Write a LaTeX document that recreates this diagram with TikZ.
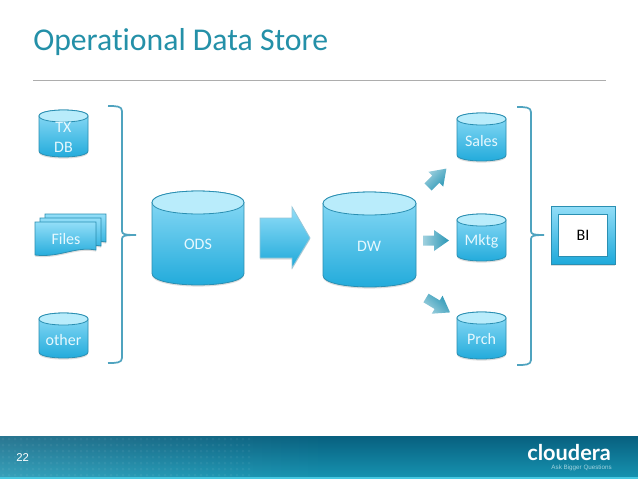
\documentclass[tikz,border=0pt]{standalone}
\usepackage{fontspec}
\setmainfont[Ligatures=NoCommon]{Carlito}
\newfontfamily\footfont{Liberation Sans}
\newfontfamily\logofont{Lato}
\usetikzlibrary{shadows,fadings}
\definecolor{titleC}{HTML}{2490A8}
\definecolor{edgeC}{HTML}{2A8FB2}
\definecolor{bodyTop}{HTML}{93DEF8}
\definecolor{bodyBot}{HTML}{1EA9DA}
\definecolor{capC}{HTML}{B9ECFB}
\definecolor{brC}{HTML}{4FA3BF}
\definecolor{arrC}{HTML}{2A97B6}
\definecolor{footTop}{HTML}{08607F}
\definecolor{footBot}{HTML}{1692B0}
\definecolor{footLine}{HTML}{46C8E1}
\definecolor{labC}{HTML}{E6F8FE}
\tikzset{
  x=0.75pt,y=-0.75pt,
  lab/.style={text=labC,font=\fontsize{12}{14.5}\selectfont,align=center,inner sep=0pt},
  blue fill/.style={top color=bodyTop,bottom color=bodyBot,draw=edgeC,line width=0.6pt},
  softshadow/.style={drop shadow={shadow xshift=0pt,shadow yshift=-1.2pt,opacity=0.22,fill=black!60}},
  bracket/.style={draw=brC,line width=1.3pt,line join=round},
  small arrow/.style={left color=arrC!45,right color=arrC,shading angle=#1,draw=none},
}
% \cyl{x1}{x2}{top}{bottom}{ry}
\newcommand{\cyl}[5]{%
  \path[blue fill,softshadow] (#1,#3+#5) -- (#1,#4-#5)
    .. controls (#1,#4+#5*0.33) and (#2,#4+#5*0.33) .. (#2,#4-#5) -- (#2,#3+#5)
    .. controls (#2,#3-#5*0.33) and (#1,#3-#5*0.33) .. (#1,#3+#5) -- cycle;
  \path[fill=capC,draw=edgeC,line width=0.6pt] (#1,#3+#5)
    .. controls (#1,#3-#5*0.33) and (#2,#3-#5*0.33) .. (#2,#3+#5)
    .. controls (#2,#3+#5*2.33) and (#1,#3+#5*2.33) .. (#1,#3+#5) -- cycle;
}
% \wavedoc{x}{y} top-left, 61 wide
\newcommand{\wavedoc}[2]{%
  \path[blue fill,softshadow] (#1,#2) -- (#1+61,#2) -- (#1+61,#2+28)
    .. controls (#1+40,#2+24) and (#1+25,#2+36) .. (#1,#2+33) -- cycle;
}
% \smallarr{tail x}{tail y}{angle}{length}{shading angle}
\newcommand{\smallarr}[5]{%
  \begin{scope}[shift={(#1,#2)},rotate=#3]
    \path[small arrow=#5] (0,-5) -- (#4-15,-5) -- (#4-15,-10.5) -- (#4,0) -- (#4-15,10.5) -- (#4-15,5) -- (0,5) -- cycle;
  \end{scope}
}
\begin{document}
\begin{tikzpicture}
\useasboundingbox (0,0) rectangle (638,479);
\fill[white] (0,0) rectangle (638,479);
% title
\node[anchor=base west,inner sep=0pt,text=titleC,font=\fontsize{23.8}{26}\selectfont] (title) at (33,50) {Operational Data Store};
\coordinate (ruleL) at (33,80.5);
\coordinate (ruleR) at (606,80.5);
\draw[black!32,line width=0.6pt] (ruleL) -- (ruleR);
% sources
\cyl{39}{88}{110}{157}{6}
\node[lab] (tx) at (63.5,137.5) {TX\\DB};
\wavedoc{45}{214}
\wavedoc{40}{218}
\wavedoc{35}{222}
\node[lab] (files) at (66,239) {Files};
\cyl{39}{88}{313}{358}{6}
\node[lab] (other) at (63.5,339.5) {other};
% left bracket
\coordinate (lbT) at (108,106);
\coordinate (lbB) at (108,363);
\coordinate (lbM) at (136,235);
\draw[bracket] (lbT) .. controls (116,106) and (122,106) .. (122,111) -- (122,231)
  .. controls (122,234) and (124,235) .. (lbM)
  (lbM) .. controls (124,235) and (122,236) .. (122,239) -- (122,358)
  .. controls (122,363) and (116,363) .. (lbB);
% ODS, arrow, DW
\cyl{152}{244}{191}{285}{11.5}
\node[lab] (ods) at (198,244) {ODS};
\path[blue fill,draw=edgeC!50,softshadow] (260,218) -- (292,218) -- (292,207) -- (310,238) -- (292,268) -- (292,258) -- (260,258) -- cycle;
\cyl{323}{416}{192}{287}{11.5}
\node[lab] (dw) at (369,246) {DW};
% small arrows
\smallarr{423}{240.5}{0}{26}{90}
\smallarr{428}{187}{45}{26}{45}
\smallarr{426}{298}{-31}{28}{135}
% targets
\cyl{457}{506}{113}{161}{6}
\node[lab] (sales) at (481.5,141) {Sales};
\cyl{457}{506}{214}{261}{6}
\node[lab] (mktg) at (481.5,241) {Mktg};
\cyl{457}{506}{312}{359}{6}
\node[lab] (prch) at (481.5,339) {Prch};
% right bracket
\coordinate (rbT) at (517,107);
\coordinate (rbB) at (517,365);
\coordinate (rbM) at (544,235);
\draw[bracket] (rbT) .. controls (525,107) and (531,107) .. (531,112) -- (531,231)
  .. controls (531,234) and (533,235) .. (rbM)
  (rbM) .. controls (533,235) and (531,236) .. (531,239) -- (531,360)
  .. controls (531,365) and (525,365) .. (rbB);
% BI
\path[blue fill,softshadow] (551,206) rectangle (615,264);
\path[fill=white,draw=edgeC,line width=0.6pt] (558,214) rectangle (607,256);
\node[inner sep=0pt,font=\fontsize{12}{14}\selectfont,text=black] (bi) at (583,235) {BI};
% footer
\path[top color=footTop,bottom color=footBot] (0,436) rectangle (638,477);
\fill[white,fill opacity=0.14,path fading=east] (0,436) rectangle (330,477);
\foreach \dx in {3,9,...,250} \foreach \dy in {439,445,...,475}
  \fill[white,fill opacity=0.05] (\dx,\dy) circle (1.5);
\fill[footLine] (0,477) rectangle (638,479);
\node[anchor=base west,inner sep=0pt,text=white,font=\footfont\fontsize{8.5}{10}\selectfont] (page) at (16,461) {22};
\node[anchor=base west,inner sep=0pt,text=white,font=\logofont\bfseries\fontsize{16.3}{18}\selectfont] (logo) at (527,460) {cloudera};
\node[anchor=base east,inner sep=0pt,text=white!60!footBot,font=\footfont\fontsize{4.7}{5}\selectfont] (tag) at (612,469.5) {Ask Bigger Questions};
\end{tikzpicture}
\end{document}
